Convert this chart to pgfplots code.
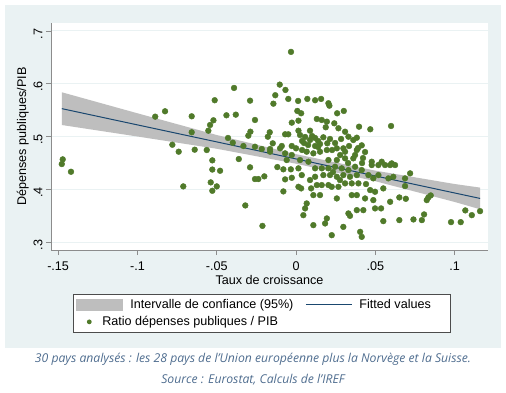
\documentclass[border=0pt]{standalone}
\usepackage{pgfplots}
\pgfplotsset{compat=1.18}
\usepackage{pgfplotstable}
\usepackage{fontspec}
\setmainfont{Liberation Sans}
\newfontfamily\capfont{Open Sans}
\definecolor{bgcol}{HTML}{EAF2F3}
\definecolor{bandgray}{HTML}{BEBEBE}
\definecolor{linecol}{HTML}{1A476F}
\definecolor{dotgreen}{HTML}{507A2A}
\definecolor{capcol}{HTML}{4F6D8F}
\definecolor{axcol}{HTML}{8C8C8C}

\pgfplotstableread{
x y
-0.1471 0.4567
-0.1477 0.4478
-0.1419 0.4332
-0.0888 0.5376
-0.0826 0.5478
-0.0658 0.5383
-0.0658 0.5080
-0.0780 0.4844
-0.0740 0.4712
-0.0639 0.4750
-0.0711 0.4055
-0.0563 0.4744
-0.0553 0.5110
-0.0542 0.5218
-0.0521 0.5307
-0.0513 0.5687
-0.0439 0.5402
-0.0380 0.5414
-0.0391 0.5920
-0.0290 0.5679
-0.0259 0.5313
-0.0288 0.5091
-0.0301 0.5015
-0.0429 0.4972
-0.0399 0.4882
-0.0332 0.4820
-0.0259 0.4806
-0.0216 0.4763
-0.0164 0.4763
-0.0166 0.5080
-0.0178 0.4996
-0.0147 0.4871
-0.0090 0.4820
-0.0027 0.4820
-0.0069 0.5042
-0.0049 0.5042
0.0015 0.5110
-0.0027 0.5262
0.0015 0.5300
0.0008 0.5484
-0.0143 0.5622
-0.0131 0.5782
-0.0103 0.5983
-0.0067 0.5882
-0.0049 0.5712
0.0013 0.5674
-0.0032 0.6603
-0.0528 0.4548
-0.0361 0.4573
-0.0528 0.4374
-0.0479 0.4351
-0.0290 0.4416
-0.0538 0.4131
-0.0500 0.4055
-0.0528 0.3972
-0.0259 0.4194
-0.0238 0.4194
-0.0200 0.4245
-0.0118 0.4421
-0.0080 0.4378
-0.0033 0.4378
-0.0069 0.4188
-0.0027 0.4218
-0.0080 0.3960
-0.0320 0.3694
-0.0212 0.3307
-0.0164 0.4712
-0.0101 0.4776
-0.0069 0.4681
-0.0027 0.4649
0.0000 0.4776
-0.0059 0.4554
0.0015 0.4397
0.0015 0.4047
0.0071 0.5712
0.0120 0.5687
0.0158 0.5712
0.0204 0.5630
0.0210 0.5584
0.0032 0.5440
0.0259 0.5440
0.0301 0.5484
0.0131 0.5332
0.0162 0.5313
0.0194 0.5281
0.0187 0.5175
0.0241 0.5250
0.0267 0.5156
0.0309 0.5091
0.0397 0.5186
0.0468 0.5137
0.0599 0.5199
0.0088 0.5110
0.0057 0.4991
0.0088 0.4934
0.0120 0.4972
0.0076 0.4839
0.0120 0.4820
0.0139 0.4915
0.0172 0.4985
0.0197 0.4871
0.0257 0.4776
0.0298 0.4776
0.0330 0.4996
0.0361 0.4934
0.0383 0.4977
0.0414 0.4833
0.0038 0.4915
0.0067 0.4712
0.0109 0.4681
0.0151 0.4712
0.0194 0.4744
0.0309 0.4712
0.0372 0.4649
0.0383 0.4744
0.0025 0.4554
0.0078 0.4522
0.0204 0.4554
0.0257 0.4554
0.0309 0.4586
0.0361 0.4586
0.0477 0.4522
0.0540 0.4522
0.0593 0.4459
0.0120 0.4397
0.0162 0.4397
0.0204 0.4397
0.0246 0.4427
0.0288 0.4397
0.0330 0.4364
0.0372 0.4427
0.0414 0.4364
0.0477 0.4459
0.0519 0.4459
0.0561 0.4459
0.0036 0.4269
0.0120 0.4237
0.0172 0.4269
0.0214 0.4269
0.0257 0.4237
0.0298 0.4269
0.0340 0.4237
0.0383 0.4269
0.0456 0.4269
0.0519 0.4269
0.0487 0.4207
0.0582 0.4207
0.0032 0.4017
0.0095 0.4017
0.0131 0.4080
0.0162 0.4080
0.0204 0.4080
0.0225 0.4047
0.0267 0.4047
0.0309 0.4112
0.0351 0.4112
0.0393 0.4112
0.0109 0.3890
0.0151 0.3890
0.0257 0.3827
0.0351 0.3890
0.0383 0.3890
0.0435 0.3827
0.0467 0.3985
0.0498 0.3953
0.0487 0.3795
0.0498 0.3638
0.0536 0.3638
0.0550 0.4017
0.0550 0.3397
0.0067 0.3732
0.0057 0.3638
0.0046 0.3510
0.0194 0.3448
0.0183 0.3353
0.0109 0.3321
0.0225 0.3131
0.0298 0.3288
0.0330 0.3543
0.0340 0.3497
0.0383 0.3605
0.0424 0.3605
0.0404 0.3194
0.0414 0.3099
0.0603 0.4491
0.0624 0.4459
0.0613 0.4237
0.0719 0.4302
0.0687 0.4207
0.0687 0.4061
0.0651 0.3846
0.0692 0.3820
0.0593 0.3763
0.0824 0.3795
0.0834 0.3846
0.0849 0.3884
0.0651 0.3416
0.0740 0.3429
0.0793 0.3416
0.0807 0.3524
0.0977 0.3378
0.1038 0.3378
0.1067 0.3600
0.1108 0.3510
0.1160 0.3586
0.0025 0.5028
0.0139 0.4801
0.0227 0.4744
0.0278 0.4649
0.0422 0.4592
0.0038 0.4744
0.0050 0.4877
0.0101 0.5009
0.0151 0.4858
0.0214 0.4953
0.0246 0.4877
0.0284 0.4953
0.0334 0.4820
0.0391 0.4782
0.0435 0.4706
0.0328 0.4497
0.0416 0.4497
0.0233 0.4326
0.0277 0.4175
0.0088 0.4175
0.0441 0.4099
}\scatterdata

\pgfplotstableread{
x lo fit hi
-0.1477 0.5218 0.5528 0.5838
-0.1000 0.5000 0.5220 0.5440
-0.0500 0.4768 0.4898 0.5028
0.0000 0.4485 0.4575 0.4665
0.0500 0.4153 0.4253 0.4353
0.1000 0.3760 0.3930 0.4100
0.1160 0.3622 0.3827 0.4032
}\fitdata

\begin{document}
\begin{tikzpicture}[x=1pt,y=1pt]
\useasboundingbox (0,0) rectangle (506,392);
\fill[bgcol] (5,44) rectangle (501,387);
\begin{axis}[
  at={(51pt,142pt)}, anchor=south west,
  scale only axis, width=437pt, height=227pt,
  xmin=-0.1545, xmax=0.121, ymin=0.285, ymax=0.715,
  axis background/.style={fill=white},
  axis x line*=bottom, axis y line*=left,
  axis line style={axcol, line width=0.8pt},
  xtick={-0.15,-0.1,-0.05,0,0.05,0.1},
  xticklabels={-.15,-.1,-.05,0,.05,.1},
  ytick={0.3,0.4,0.5,0.6,0.7},
  yticklabels={.3,.4,.5,.6,.7},
  tick align=outside, major tick length=5pt,
  tick style={axcol, line width=0.8pt},
  ymajorgrids, grid style={bgcol, line width=1pt},
  ticklabel style={font=\fontsize{12.6}{14}\selectfont},
  xticklabel style={yshift=-3pt},
  yticklabel style={rotate=90, anchor=south, xshift=-3pt},
  xlabel={Taux de croissance},
  ylabel={Dépenses publiques/PIB},
  label style={font=\fontsize{12.6}{14}\selectfont},
  xlabel style={at={(axis description cs:0.5,-0.132)}, anchor=center},
  ylabel style={at={(axis description cs:-0.0645,0.5)}, anchor=center},
  legend columns=2,
  legend cell align=left,
  legend style={at={(axis description cs:0.0503,-0.194)}, anchor=north west,
    draw=black!70, line width=0.6pt, fill=white,
    font=\fontsize{12.6}{14}\selectfont,
    inner xsep=3pt, inner ysep=3pt,
    nodes={inner sep=2pt},
    row sep=2.5pt,
    /tikz/every odd column/.append style={column sep=5pt},
    /tikz/every even column/.append style={column sep=10pt}},
]
\addplot[fill=bandgray, draw=none,
  legend image code/.code={\fill[bandgray] (0pt,-6pt) rectangle (47pt,6pt);}]
  coordinates {(-0.1477,0.5838) (-0.1,0.5440) (-0.05,0.5028) (0,0.4665) (0.05,0.4353) (0.1,0.4100) (0.116,0.4032)
               (0.116,0.3622) (0.1,0.3760) (0.05,0.4153) (0,0.4485) (-0.05,0.4768) (-0.1,0.5000) (-0.1477,0.5218)} -- cycle;
\addlegendentry{Intervalle de confiance (95\%)}
\addplot[linecol, line width=1pt,
  legend image code/.code={\draw[linecol, line width=1pt] (0pt,0pt) -- (46pt,0pt);}]
  table[x=x, y=fit] {\fitdata};
\addlegendentry{Fitted values\hspace*{14pt}}
\addplot[only marks, mark=*, mark size=2.9pt, mark options={fill=dotgreen, draw=dotgreen},
  legend image code/.code={\path[draw=none, fill=none] (0pt,0pt) -- (47pt,0pt); \fill[dotgreen, draw=none] (13pt,0pt) circle (2.4pt);}]
  table[x=x, y=y] {\scatterdata};
\addlegendentry{\hspace*{-28pt}Ratio dépenses publiques / PIB}
\end{axis}
\node[font=\capfont\itshape\fontsize{12.2}{14}\selectfont, text=capcol] at (253,32.5) {30 pays analysés : les 28 pays de l’Union européenne plus la Norvège et la Suisse.};
\node[font=\capfont\itshape\fontsize{12.2}{14}\selectfont, text=capcol] at (253,12) {Source : Eurostat, Calculs de l’IREF};
\end{tikzpicture}
\end{document}
